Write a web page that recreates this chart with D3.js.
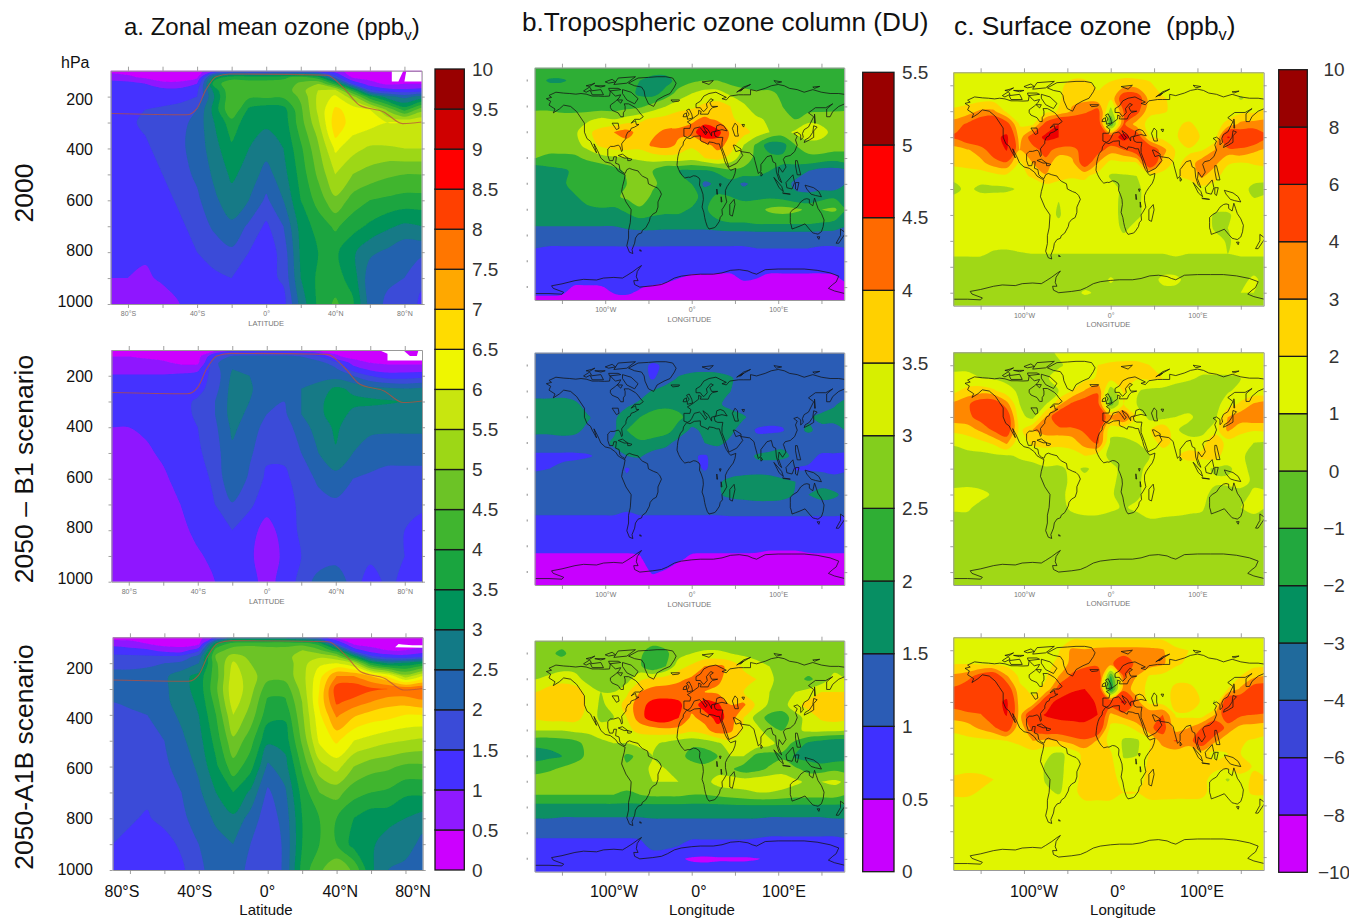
<!DOCTYPE html>
<html>
<head>
<meta charset="utf-8">
<script src="https://cdn.jsdelivr.net/npm/d3@7"></script>
<style>
  body { margin: 0; background: #fff; }
  text { font-family: "Liberation Sans", Arial, sans-serif; }
</style>
</head>
<body>
<svg id="chart" width="1349" height="918"></svg>
<script>
// grid coordinates
const zonalLat = [-90,-80,-70,-60,-50,-40,-30,-20,-10,0,10,20,30,40,50,60,70,80,90];
const zonalPres = [100,125,150,175,200,250,300,350,400,500,600,700,800,900,1000];
const mapLon = [-180,-165,-150,-135,-120,-105,-90,-75,-60,-45,-30,-15,0,15,30,45,60,75,90,105,120,135,150,165,180];
const mapLat = [90,80,70,60,50,40,30,20,10,0,-10,-20,-30,-40,-50,-60,-70,-80,-90];

// colour bars, lowest class first
const zonalLevels = [0,0.5,1,1.5,2,2.5,3,3.5,4,4.5,5,5.5,6,6.5,7,7.5,8,8.5,9,9.5,10];
const zonalLabels = ["0","0.5","1","1.5","2","2.5","3","3.5","4","4.5","5","5.5","6","6.5","7","7.5","8","8.5","9","9.5","10"];
const zonalColors = ["#cc00ff","#8f19ff","#4430ff","#3a4bd8","#2262ae","#127a86","#00935a","#1aa53f","#40b52f","#6cc326","#9dd716","#c8e60f","#eff600","#ffdc00","#ffa800","#ff7600","#ff4000","#ff0000","#cf0000","#990000"];
const columnLevels = [0,0.5,1,1.5,2,2.5,3,3.5,4,4.5,5,5.5];
const columnLabels = ["0","0.5","1","1.5","2","2.5","3","3.5","4","4.5","5","5.5"];
const columnColors = ["#c800ff","#3f30ff","#2b5cb5","#078f63","#2fae34","#83ce1d","#d7ef00","#ffd000","#ff6a00","#ff0000","#990000"];
const surfaceLevels = [-10,-8,-6,-4,-3,-2,-1,0,1,2,3,4,6,8,10];
const surfaceLabels = ["\u221210","\u22128","\u22126","\u22124","\u22123","\u22122","\u22121","0","1","2","3","4","6","8","10"];
const surfaceColors = ["#cc00ff","#5f20ff","#3a45d8","#206a9c","#03905f","#22a83e","#5fc025","#a0d818","#e0f500","#ffd500","#ff8800","#ff4000","#ee0000","#990000"];

// a. zonal mean ozone, rows = pressure, cols = latitude
const zonal2000 = [
[.3,.3,.3,.3,.3,.3,.9,1.2,1.2,1.2,1.2,1.2,1.0,.7,.3,.3,.3,.3,.3],
[.8,.6,.4,.3,.3,.4,3.2,3.8,3.8,3.8,3.9,4.2,3.7,1.8,.4,.3,.3,.3,.3],
[1.2,1.2,1.0,.6,.6,1.0,3.8,4.3,4.2,4.2,4.2,4.6,5.0,3.8,1.5,.7,.4,.5,.5],
[1.2,1.2,1.2,1.2,1.2,1.4,3.2,4.5,4.2,4.2,4.2,4.8,5.5,5.6,3.8,1.6,1.2,1.1,1.2],
[1.2,1.2,1.2,1.2,1.3,1.5,3.0,4.5,4.1,4.1,4.1,4.6,5.6,6.1,5.2,3.6,2.7,2.3,2.7],
[1.3,1.4,1.5,1.6,1.7,2.0,3.2,4.5,3.4,3.2,3.3,4.4,5.6,6.6,6.3,6.0,4.9,3.8,4.8],
[1.3,1.4,1.6,1.7,1.8,2.2,3.0,3.8,3.2,3.1,3.2,4.3,5.4,6.8,6.3,6.1,6.0,6.0,6.0],
[1.2,1.3,1.5,1.7,1.9,2.2,2.9,3.6,3.1,2.9,3.1,4.1,5.1,6.6,6.0,5.9,5.9,5.9,5.9],
[1.2,1.2,1.4,1.7,1.9,2.2,2.8,3.4,3.0,2.7,3.0,3.9,4.9,6.1,5.7,5.4,5.4,5.5,5.5],
[1.2,1.2,1.3,1.5,1.8,2.1,2.6,3.1,2.8,2.3,2.8,3.7,4.6,5.5,5.0,4.8,4.6,4.5,4.5],
[1.2,1.2,1.2,1.3,1.6,1.9,2.4,2.8,2.5,1.9,2.5,3.5,4.2,4.9,4.3,4.0,3.9,3.8,3.8],
[1.2,1.2,1.2,1.2,1.4,1.7,2.1,2.4,1.9,1.4,2.0,3.2,3.7,4.1,3.7,3.4,3.1,2.9,3.0],
[1.1,1.1,1.1,1.2,1.3,1.5,1.7,1.9,1.5,1.2,1.7,3.1,3.5,3.6,3.1,2.6,2.4,2.1,2.1],
[1.0,1.0,.9,1.1,1.2,1.2,1.4,1.5,1.3,1.3,1.6,3.0,3.6,3.7,3.3,2.2,2.1,2.0,1.6],
[.7,.8,.7,.7,1.0,1.1,1.1,1.1,1.1,1.1,1.3,2.7,3.6,4.1,3.6,2.3,1.9,1.8,1.4]];
const zonalB1 = [
[.3,.3,.3,.3,.3,.3,.5,.8,.8,.8,.8,.7,.5,.3,.3,.3,.3,.3,.3],
[.5,.5,.4,.3,.3,.3,1.5,2.1,2.2,2.2,2.2,2.0,1.6,.6,.3,.3,.3,.3,.3],
[.7,.7,.7,.6,.4,.4,1.9,2.4,2.3,2.2,2.2,2.2,2.2,1.7,.8,.5,.4,.4,.4],
[.8,.8,.8,.8,.8,.9,1.8,2.5,2.4,2.2,2.2,2.2,2.2,2.1,1.3,.9,.8,.8,.8],
[1.05,1.05,1.05,1.05,1.1,1.2,1.7,2.6,2.5,2.2,2.2,2.3,2.3,2.3,2.0,1.5,1.2,1.2,1.3],
[1.2,1.2,1.2,1.2,1.2,1.3,1.8,2.7,2.6,2.1,2.1,2.5,2.7,3.1,2.9,2.7,2.6,2.5,2.6],
[1.15,1.15,1.2,1.2,1.3,1.6,2.0,2.7,2.5,2.0,2.0,2.5,2.9,3.2,3.1,3.1,3.05,3.0,3.0],
[1.05,1.05,1.15,1.2,1.3,1.6,2.0,2.7,2.4,2.0,1.9,2.5,2.9,3.2,2.9,2.8,2.8,2.8,2.8],
[1.0,1.0,1.05,1.15,1.3,1.5,1.9,2.6,2.3,1.8,1.7,2.3,2.7,3.1,2.7,2.6,2.6,2.6,2.6],
[.9,.9,.95,1.05,1.2,1.4,1.8,2.4,2.1,1.6,1.6,2.0,2.5,2.95,2.5,2.3,2.2,2.2,2.2],
[.8,.8,.85,.95,1.1,1.3,1.6,2.5,1.9,1.4,1.4,1.7,2.1,2.3,2.0,1.9,1.8,1.8,1.8],
[.7,.7,.75,.85,1.0,1.2,1.5,1.95,1.6,1.2,1.3,1.6,1.8,1.9,1.8,1.7,1.7,1.6,1.6],
[.7,.7,.7,.75,.9,1.1,1.3,1.5,1.2,.8,1.2,1.6,1.7,1.7,1.7,1.6,1.6,1.5,1.3],
[.6,.6,.6,.7,.8,.95,1.1,1.3,1.1,.7,1.1,1.5,1.7,1.7,1.7,1.6,1.6,1.5,1.3],
[.6,.6,.6,.6,.6,.8,1.0,1.1,1.1,.9,1.1,1.7,2.2,2.5,1.7,1.3,1.6,1.4,1.2]];
const zonalA1B = [
[.3,.3,.3,.3,.3,.3,1.2,2.4,2.5,2.5,2.5,2.2,1.5,.4,.3,.3,.3,.3,.3],
[.8,.7,.5,.3,.3,.4,3.4,4.3,4.4,4.4,4.4,4.3,3.8,1.6,.4,.3,.3,.3,.3],
[1.3,1.2,1.1,.8,.7,1.4,4.3,4.7,4.7,4.6,4.6,5.0,4.6,3.7,1.3,.7,.5,.5,.7],
[1.6,1.6,1.6,1.6,1.7,2.2,4.6,5.2,4.9,4.7,4.7,5.4,5.4,5.1,3.5,1.7,1.3,1.2,1.4],
[1.9,1.9,1.9,2.0,2.1,2.5,4.4,5.6,5.0,4.7,4.7,5.3,5.9,6.0,5.5,3.6,2.9,3.1,3.5],
[2.1,2.1,2.2,2.4,2.8,3.2,4.3,5.8,5.2,4.7,4.7,5.3,6.3,7.5,7.5,7.0,6.4,5.2,6.0],
[2.1,2.1,2.2,2.4,2.8,3.2,4.4,5.9,5.2,4.2,4.2,5.2,6.5,8.3,8.4,8.1,8.0,7.9,8.0],
[2.0,2.1,2.2,2.4,2.7,3.1,4.2,5.8,5.0,3.9,3.9,5.0,6.6,8.1,7.8,7.5,7.2,7.2,7.4],
[1.9,1.9,2.0,2.3,2.6,3.0,4.0,5.5,4.8,3.7,3.6,4.9,6.4,7.6,7.1,6.8,6.7,6.5,6.5],
[1.7,1.7,1.8,2.0,2.4,2.8,3.7,4.9,4.2,3.1,3.2,4.6,6.1,6.6,6.0,5.8,5.6,5.5,5.4],
[1.6,1.6,1.7,1.9,2.2,2.6,3.4,4.3,3.7,2.4,2.8,4.1,5.3,5.7,5.0,4.7,4.6,4.4,4.4],
[1.6,1.6,1.6,1.8,2.0,2.4,3.0,3.5,2.9,1.9,2.4,3.7,4.5,4.7,4.2,4.0,3.9,3.6,3.6],
[1.6,1.55,1.45,1.65,1.9,2.2,2.6,2.9,2.3,1.7,2.2,3.5,4.0,4.0,3.5,3.2,3.2,3.0,2.8],
[1.5,1.4,1.3,1.3,1.6,2.0,2.3,2.5,2.0,1.6,2.1,3.5,4.0,4.0,3.3,3.1,2.7,2.8,2.3],
[1.3,1.3,1.2,1.2,1.4,1.9,2.2,2.2,1.9,1.6,2.1,3.7,4.4,4.9,4.4,3.1,2.5,2.3,2.1]];

// b. tropospheric ozone column, rows = latitude, cols = longitude
const column2000 = [
[2.3,2.3,2.3,2.3,2.3,2.3,2.3,2.3,2.3,2.3,2.3,2.3,2.3,2.3,2.3,2.3,2.3,2.3,2.3,2.3,2.3,2.3,2.3,2.3,2.3],
[2.2,1.95,1.95,2.1,2.2,2.2,2.2,2.2,2.0,1.8,1.8,2.2,2.4,2.5,2.5,2.3,2.2,2.2,2.2,2.2,2.2,2.2,2.2,2.2,2.2],
[2.3,2.3,2.3,2.3,2.3,2.3,2.2,2.2,1.9,1.8,2.2,2.7,3.0,3.2,3.2,2.9,2.7,2.6,2.6,2.4,2.3,2.3,2.3,2.3,2.3],
[2.4,2.4,2.3,2.3,2.2,2.2,2.2,2.3,2.4,2.7,3.0,3.3,3.4,3.6,3.7,3.5,3.1,2.7,2.6,2.5,2.2,2.2,2.2,2.3,2.4],
[2.7,2.7,2.7,2.7,2.9,3.1,3.0,3.2,3.4,3.6,3.7,3.8,3.9,4.1,3.9,3.6,3.3,3.1,2.9,2.6,2.5,2.8,2.9,2.8,2.7],
[2.8,2.8,2.8,2.9,3.4,3.7,4.0,4.2,3.8,3.9,4.1,4.1,4.2,5.1,4.7,3.9,3.7,3.3,3.0,2.8,3.1,3.5,3.1,2.9,2.8],
[2.7,2.7,2.7,2.8,3.2,3.6,3.8,3.8,3.7,4.1,4.2,3.9,3.6,3.8,4.2,3.8,3.0,2.4,1.7,1.8,2.5,2.7,2.9,2.8,2.7],
[2.5,2.4,2.4,2.4,2.6,2.8,2.9,3.0,3.1,3.2,3.3,3.3,3.2,3.5,3.7,3.3,2.7,2.4,2.2,2.1,2.3,2.4,2.3,2.2,2.3],
[1.6,1.8,1.9,2.1,2.1,2.1,2.3,2.6,2.5,2.5,2.0,2.0,1.9,1.9,2.1,2.4,2.4,2.2,2.0,1.9,1.7,1.5,1.3,1.3,1.5],
[1.7,1.8,1.9,2.2,2.3,2.3,2.3,2.5,2.6,2.6,2.3,2.2,2.0,1.4,1.6,1.8,1.4,1.7,1.8,1.7,1.4,1.3,1.2,1.1,1.6],
[1.8,1.9,1.9,1.95,2.2,2.3,2.4,2.6,2.8,2.4,2.3,2.3,2.2,1.8,2.1,2.0,1.9,1.9,1.9,1.8,1.6,1.6,1.8,1.9,1.9],
[1.8,1.85,1.9,1.9,1.9,1.95,1.9,2.1,2.4,2.2,2.1,2.1,1.95,1.9,2.3,2.5,2.2,2.3,2.6,2.7,2.6,2.4,2.5,2.6,2.0],
[1.6,1.6,1.6,1.6,1.6,1.6,1.6,1.7,1.8,1.8,1.8,1.8,1.8,1.8,1.9,2.0,2.0,2.1,2.1,2.1,2.1,2.1,2.0,1.9,1.6],
[1.25,1.25,1.25,1.25,1.25,1.25,1.25,1.3,1.3,1.3,1.25,1.25,1.25,1.25,1.25,1.25,1.25,1.25,1.25,1.25,1.25,1.25,1.25,1.25,1.25],
[1.0,.95,.95,.95,.95,.95,.95,.95,.95,.95,.95,.95,.95,.95,.95,.95,.95,1.0,1.0,1.0,1.0,1.0,.95,.95,1.0],
[.8,.8,.8,.8,.8,.8,.8,.8,.8,.8,.8,.8,.8,.8,.8,.8,.8,.8,.8,.8,.8,.8,.8,.8,.8],
[.8,.8,.8,.8,.8,.8,.8,.8,.8,.8,.7,.55,.5,.5,.48,.48,.6,.55,.48,.48,.48,.48,.48,.5,.6],
[.7,.7,.65,.45,.45,.47,.6,.65,.52,.45,.4,.4,.4,.4,.4,.4,.4,.4,.4,.4,.4,.4,.4,.4,.45],
[.4,.4,.4,.4,.4,.4,.4,.4,.4,.4,.4,.4,.4,.4,.4,.4,.4,.4,.4,.4,.4,.4,.4,.4,.4]];
const columnB1 = [
[1.2,1.2,1.2,1.2,1.2,1.2,1.2,1.2,1.2,1.2,1.2,1.2,1.2,1.2,1.2,1.2,1.2,1.2,1.2,1.2,1.2,1.2,1.2,1.2,1.2],
[1.25,1.25,1.25,1.25,1.25,1.25,1.25,1.25,1.1,.95,1.05,1.25,1.25,1.25,1.25,1.25,1.25,1.25,1.25,1.25,1.25,1.25,1.25,1.25,1.25],
[1.2,1.2,1.2,1.2,1.2,1.2,1.2,1.2,1.2,.95,1.3,1.55,1.7,1.75,1.7,1.55,1.3,1.2,1.2,1.2,1.2,1.2,1.2,1.2,1.2],
[1.25,1.25,1.25,1.25,1.2,1.2,1.2,1.2,1.3,1.55,1.7,1.8,1.8,1.8,1.7,1.5,1.3,1.2,1.1,1.1,1.05,1.2,1.2,1.2,1.25],
[1.7,1.7,1.75,1.6,1.3,1.2,1.2,1.4,1.6,1.8,1.9,1.85,1.7,1.65,1.55,1.4,1.3,1.2,1.2,1.2,1.0,1.2,1.3,1.45,1.7],
[1.7,1.7,1.8,1.7,1.55,1.3,1.4,1.8,2.0,2.2,2.2,2.1,1.8,1.8,1.8,1.65,1.55,1.3,1.2,1.2,1.3,1.45,1.6,1.7,1.7],
[1.6,1.6,1.65,1.6,1.4,1.3,1.4,2.0,2.3,2.3,2.2,1.8,1.4,1.6,1.7,1.6,1.3,.95,.9,.95,1.4,1.55,1.4,1.3,1.55],
[1.3,1.3,1.3,1.3,1.3,1.3,1.6,1.7,1.9,1.8,1.65,1.3,1.3,1.5,1.6,1.4,1.2,1.15,1.3,1.4,1.5,1.3,1.2,1.2,1.25],
[.9,.9,.9,.9,.95,1.1,1.3,1.5,1.55,1.3,1.2,1.2,1.05,.95,1.2,1.3,1.3,1.55,1.6,1.6,1.4,1.1,.95,.95,.9],
[.95,1.0,1.1,1.2,1.3,1.3,1.3,.95,1.2,1.3,1.3,1.3,1.2,.95,1.2,1.3,1.3,1.35,1.3,1.2,.95,.95,.9,.85,.95],
[1.2,1.3,1.3,1.3,1.3,1.3,1.3,1.1,1.3,1.3,1.3,1.3,1.3,1.3,1.45,1.6,1.7,1.7,1.7,1.6,1.5,1.3,1.3,1.2,1.2],
[1.3,1.3,1.3,1.3,1.3,1.3,1.3,1.3,1.3,1.3,1.3,1.3,1.3,1.3,1.45,1.6,1.7,1.8,1.8,1.7,1.45,1.5,1.7,1.6,1.3],
[1.15,1.15,1.15,1.15,1.15,1.15,1.15,1.05,1.15,1.15,1.15,1.15,1.15,1.15,1.15,1.2,1.2,1.2,1.2,1.2,1.2,1.2,1.2,1.2,1.15],
[.9,.9,.9,.9,.9,.9,.9,.9,.9,.9,.9,.9,.9,.9,.9,.9,.9,.9,.9,.9,.9,.9,.9,.9,.9],
[.85,.85,.85,.85,.85,.85,.85,.85,.85,.85,.85,.85,.85,.85,.85,.85,.85,.85,.85,.85,.85,.85,.85,.85,.85],
[.62,.62,.62,.62,.62,.62,.62,.62,.62,.7,.7,.65,.62,.62,.62,.62,.62,.6,.55,.55,.55,.6,.62,.62,.62],
[.4,.4,.4,.4,.4,.4,.4,.4,.45,.7,.7,.55,.42,.4,.4,.4,.4,.4,.4,.4,.4,.4,.4,.4,.4],
[.3,.3,.3,.3,.3,.3,.3,.3,.3,.55,.45,.3,.3,.3,.3,.3,.3,.3,.3,.3,.3,.3,.3,.3,.3],
[.25,.25,.25,.25,.25,.25,.25,.25,.25,.25,.25,.25,.25,.25,.25,.25,.25,.25,.25,.25,.25,.25,.25,.25,.25]];
const columnA1B = [
[2.7,2.7,2.7,2.7,2.7,2.7,2.7,2.7,2.7,2.7,2.7,2.7,2.7,2.7,2.7,2.7,2.7,2.7,2.7,2.7,2.7,2.7,2.7,2.7,2.7],
[2.7,2.6,2.4,2.7,2.7,2.7,2.7,2.7,2.6,2.2,2.4,2.8,3.0,3.1,3.1,3.0,2.9,2.8,2.7,2.7,2.7,2.7,2.7,2.7,2.7],
[2.8,2.8,2.8,2.8,2.8,2.7,2.7,2.8,2.6,2.0,2.5,3.3,3.6,4.0,4.1,3.9,3.4,3.2,3.0,2.9,2.9,2.8,2.8,2.8,2.8],
[3.0,3.1,3.3,3.2,2.8,2.7,2.8,2.8,3.4,3.7,3.8,3.9,4.1,4.2,4.1,3.8,3.7,3.5,3.1,2.8,2.7,2.4,2.7,3.2,3.0],
[3.5,3.8,3.9,3.8,3.3,3.0,3.0,3.4,4.0,4.2,4.2,4.3,4.1,4.0,3.9,3.6,3.5,3.2,3.0,2.8,3.0,3.2,3.5,3.5,3.5],
[3.7,3.9,3.9,3.9,3.4,2.9,3.2,3.7,4.3,4.7,4.8,4.6,4.2,4.8,4.6,4.0,4.1,3.4,2.9,2.8,3.3,3.7,3.9,3.8,3.7],
[3.6,3.7,3.7,3.7,3.3,2.9,3.0,3.5,4.3,4.8,4.9,4.5,3.9,4.2,4.7,4.3,3.5,2.8,2.3,2.2,2.8,3.2,3.6,3.7,3.6],
[3.0,3.0,3.0,3.1,3.1,3.2,3.2,3.4,3.6,3.7,3.8,3.8,3.6,3.8,4.3,4.1,3.4,3.2,2.7,2.5,2.9,3.1,3.1,3.1,3.0],
[2.1,2.1,2.2,2.3,2.7,2.9,3.0,3.0,3.2,3.1,2.9,2.7,2.6,2.7,2.9,3.3,3.3,3.4,3.2,2.7,2.4,1.9,1.7,1.5,1.5],
[1.8,1.9,2.0,2.3,2.6,2.8,2.9,2.4,2.6,3.0,2.9,2.7,2.3,2.2,2.5,3.0,3.0,2.3,2.2,2.4,1.9,1.8,1.6,1.7,1.8],
[2.3,2.4,2.6,2.7,2.7,2.8,2.8,2.6,2.8,3.1,3.0,2.9,2.8,2.7,2.8,2.6,2.2,2.3,2.6,2.8,2.6,2.3,2.3,2.4,2.3],
[2.8,2.9,3.0,3.0,3.0,3.0,3.0,2.7,2.8,3.0,3.0,3.0,2.9,2.8,3.2,3.3,3.3,3.4,3.4,3.3,3.1,2.9,3.0,3.1,2.9],
[2.5,2.5,2.5,2.5,2.5,2.5,2.5,2.4,2.5,2.6,2.6,2.6,2.5,2.5,2.6,2.7,2.8,2.9,2.9,2.8,2.7,2.7,2.7,2.7,2.5],
[1.8,1.8,1.8,1.8,1.8,1.8,1.8,1.8,1.8,1.8,1.8,1.8,1.8,1.8,1.8,1.8,1.8,1.8,1.8,1.8,1.8,1.8,1.8,1.8,1.8],
[1.45,1.45,1.4,1.4,1.4,1.4,1.4,1.4,1.4,1.45,1.45,1.45,1.45,1.45,1.45,1.45,1.45,1.45,1.4,1.4,1.4,1.4,1.4,1.45,1.45],
[1.1,1.1,1.1,1.1,1.1,1.1,1.1,1.1,1.1,1.2,1.2,1.15,1.15,1.15,1.15,1.15,1.15,1.1,1.05,1.05,1.05,1.05,1.05,1.05,1.1],
[.85,.85,.85,.85,.85,.85,.85,.85,.9,1.1,1.1,1.0,.85,.85,.85,.85,.85,.85,.85,.85,.85,.85,.85,.85,.85],
[.8,.8,.8,.8,.8,.8,.8,.8,.8,.8,.7,.55,.45,.42,.45,.45,.45,.48,.55,.7,.8,.8,.8,.8,.8],
[.75,.75,.75,.75,.75,.75,.75,.75,.75,.75,.75,.7,.7,.7,.7,.7,.7,.7,.75,.75,.75,.75,.75,.75,.75]];

// c. surface ozone
const surface2000 = [
[1.5,1.5,1.5,1.5,1.5,1.5,1.5,1.5,1.5,1.5,1.5,1.5,1.5,1.5,1.5,1.5,1.5,1.5,1.5,1.5,1.5,1.5,1.5,1.5,1.5],
[1.5,1.5,1.5,1.5,1.5,1.5,1.5,1.5,1.7,2.4,2.4,1.8,2.2,2.6,2.5,2.2,1.5,1.5,1.5,1.5,1.5,1.5,1.5,1.5,1.5],
[1.5,1.5,1.5,1.5,1.5,1.5,1.5,1.5,1.8,2.8,2.7,2.3,2.2,5,5,2.5,2.1,1.7,1.6,1.5,1.5,1.5,.9,1.4,1.5],
[2.2,2.5,3.2,3.2,1.8,1.5,1.4,1.6,2.1,3.1,3.7,4.5,.5,4.1,4.5,2.2,2.1,1.8,1.6,1.5,1.5,1.6,1.7,1.8,2.2],
[3.5,4.2,5,5.5,4.6,1.9,1.8,4.5,6,5.5,5.5,5.4,-1,4.2,2.5,1.7,1.5,1.9,2.1,1.8,1.7,2.2,3.3,3.4,3.5],
[4.2,5,5.3,5.5,6.4,2.5,4.8,6.5,6,5.2,5.3,4.8,5,6.7,5,2.0,1.7,1.8,3.0,1.8,1.4,6.2,5.1,5.2,4.2],
[2.5,2.9,3.5,4.7,6.1,3.0,3.5,4.5,3.5,3.6,4.5,4.5,3.5,3.9,5,5.3,3.4,1.9,1.8,1.9,3,3.6,3.8,3.2,2.8],
[2.3,2.4,2.7,3.5,3.8,1.8,3.0,3.6,2.3,2.6,4.8,3.0,1.6,1.8,1.9,5.5,2.7,1.7,2.4,3.6,3.3,2.1,1.9,2.1,2.3],
[1.2,1.4,1.4,1.6,1.7,1.8,2.1,2.9,2.3,2.1,2.2,1.6,.9,.9,1.0,1.3,1.6,1.9,2.2,3.2,2.3,1.5,1.3,1.3,1.2],
[.8,1.2,.8,.8,.85,1.1,1.4,1.4,1.5,1.5,1.5,1.4,1.3,.8,.8,1.4,1.5,1.5,1.5,1.6,1.6,1.5,1.3,.8,.8],
[1.3,1.5,1.5,1.5,1.5,1.5,1.5,1.4,1.0,1.5,1.5,1.5,1.4,.7,.8,1.4,1.5,1.5,1.5,1.5,1.5,1.4,1.3,1.1,1.3],
[1.5,1.5,1.5,1.5,1.5,1.5,1.5,1.4,.9,1.5,1.5,1.5,1.4,.7,.8,1.4,1.5,1.5,1.5,1.5,.9,.9,1.3,1.5,1.5],
[1.5,1.5,1.5,1.5,1.5,1.5,1.5,1.5,1.3,1.9,1.5,1.5,1.5,.8,1.3,1.5,1.5,1.5,1.5,1.5,.9,1.0,1.3,1.5,1.5],
[1.3,1.3,1.3,1.3,1.3,1.3,1.3,1.3,1.3,1.3,1.3,1.3,1.3,1.3,1.3,1.3,1.3,1.3,1.3,1.3,1.3,.9,1.3,1.3,1.3],
[1.1,1.1,1.1,.9,.85,.95,1.0,1.0,1.0,1.0,1.0,1.0,1.0,1.0,1.0,1.0,1.0,1.1,1.0,1.0,1.0,1.0,1.1,1.1,1.1],
[.6,.6,.6,.6,.6,.6,.6,.6,.6,.6,.6,.6,.6,.6,.6,.6,.6,.6,.6,.6,.6,.6,.6,.6,.6],
[.6,.6,.6,.6,.6,.6,.6,.6,.6,.6,.6,.6,1.1,.7,.6,.6,1.2,1.2,.7,.6,.6,.6,.7,1.2,.6],
[.7,.7,.7,.7,.7,.7,.7,.7,.7,.7,1.1,.9,.7,.7,.7,.7,.7,.7,.7,.7,.7,.7,1.0,1.0,.7],
[.5,.5,.5,.5,.5,.5,.5,.5,.5,.5,.5,.5,.5,.5,.5,.5,.5,.5,.5,.5,.5,.5,.5,.5,.5]];
const surfaceB1 = [
[.8,.8,.8,.8,.8,.8,.8,.8,1.1,1.3,1.3,1.3,1.3,1.3,1.3,1.3,1.3,1.3,1.3,1.3,1.3,1.3,1.3,1.3,1.3],
[.8,.8,.8,.8,.8,.8,.8,.8,.9,1.2,1.4,2.0,2.2,2.3,2.3,2.0,1.5,1.5,1.4,1.3,1.3,1.3,1.3,1.3,1.3],
[1.2,1.2,1.0,.9,.7,.7,.7,.9,1.3,1.3,1.7,2.1,2.4,3.0,2.1,2.2,2.0,1.3,1.1,.9,.9,.9,1.0,1.0,1.0],
[1.8,2.4,2.6,2.2,1.4,.8,.6,.6,1.0,2.0,3.1,3.9,.3,2.2,1.1,.7,.6,.6,.6,.6,.7,.9,1.3,1.3,1.1],
[3.3,3.8,4.8,5.0,3.4,1.0,.6,.9,2.7,4.2,4.8,4.4,-.5,2.0,1.0,.7,.6,.5,.5,.5,.6,1.5,2.2,3.1,3.6],
[3.6,3.7,4.5,4.8,5,1.3,.7,3.0,5.2,5.3,5.2,4.8,3.5,4.1,1.8,.7,.6,1.0,1.2,.6,.7,3,3.6,3.8,3.7],
[2.3,2.5,3.2,4.2,4.9,1.7,3.0,3.5,3.6,3.7,4.2,4.6,1.3,1.3,1.5,1.9,3.0,1.1,.7,.6,1.5,3.2,2.3,2.1,2.2],
[1.1,1.4,1.7,2.2,3.2,1.2,2.2,2.3,2.2,2.4,3.5,4.2,.8,.8,1.0,1.4,2.4,1.7,1.3,1.5,3,1.5,1.4,1.0,.9],
[.7,.7,.7,.8,.9,1.1,1.3,1.5,1.6,1.6,2.0,1.4,.8,.7,.7,1.0,1.4,1.8,2.5,2.3,2.5,1.3,1.1,.8,.7],
[.7,.7,.7,.7,.7,.7,.7,.9,.8,1.2,.9,1.2,1.2,.8,.8,1.2,1.2,1.3,1.2,1.2,.9,.9,1.2,.8,.7],
[.7,.7,.7,.7,.7,.7,.7,.7,.8,1.1,1.2,1.2,1.2,.7,.9,1.2,1.2,1.2,1.2,1.2,1.1,1.1,1.2,.9,.8],
[1.3,1.4,1.2,.9,.9,.8,.7,.8,.8,1.2,1.3,1.3,1.1,.7,.9,1.2,1.3,1.3,1.2,1.2,.8,.8,.8,1.1,1.1],
[1.1,1.1,.8,.8,.8,.8,.8,.8,.8,1.1,1.3,1.3,1.1,.95,1.1,1.3,1.3,1.2,1.1,1.05,.8,.8,1.0,1.1,1.0],
[.8,.8,.8,.8,.8,.8,.8,.8,.8,.8,.8,.8,.8,.8,.8,.95,.9,.9,.9,.9,.9,.9,.9,.9,.8],
[.7,.7,.7,.7,.7,.7,.7,.7,.7,.7,.7,.7,.7,.7,.7,.7,.7,.7,.7,.7,.7,.7,.7,.7,.7],
[.7,.7,.7,.7,.7,.7,.7,.7,.7,.7,.7,.7,.7,.7,.7,.7,.7,.7,.7,.7,.7,.7,.7,.7,.7],
[.7,.7,.7,.7,.7,.7,.7,.7,.7,.7,.7,.7,.7,.7,.7,.7,.7,.7,.7,.7,.7,.7,.7,.7,.7],
[.7,.7,.7,.7,.7,.7,.7,.7,.7,.7,.7,.7,.7,.7,.7,.7,.7,.7,.7,.7,.7,.7,.7,.7,.7],
[.7,.7,.7,.7,.7,.7,.7,.7,.7,.7,.7,.7,.7,.7,.7,.7,.7,.7,.7,.7,.7,.7,.7,.7,.7]];
const surfaceA1B = [
[1.6,1.6,1.6,1.6,1.6,1.6,1.6,1.6,1.7,1.7,1.7,1.7,1.7,1.7,1.7,1.7,1.7,1.7,1.7,1.7,1.7,1.7,1.7,1.7,1.7],
[1.6,1.6,1.6,1.6,1.6,1.6,1.6,1.6,1.9,3.2,3.1,3.3,3.4,3.4,3.4,3.3,3.1,2.1,2.0,1.7,1.7,1.7,1.7,1.7,1.7],
[1.9,1.9,1.7,1.6,1.6,1.6,1.6,1.7,2.2,3.3,3.4,3.5,3.8,4.8,3.7,3.6,3.2,2.1,1.9,1.7,1.7,1.6,1.6,1.6,1.6],
[3.2,3.5,4.6,5.0,3.1,1.8,1.6,1.9,3.0,4.2,5.1,5.5,-1,4.2,3.0,1.9,1.7,1.7,1.7,1.6,1.7,1.7,2.0,2.7,3.0],
[4.2,5,5.3,5.6,5,2.2,1.8,2.2,4.5,5.8,6,5.8,-2,3.6,2.5,1.7,1.6,2.2,2.2,1.8,1.6,2,3.2,4.7,4.9],
[4.6,5,5.2,5.4,6.3,2.5,2.2,5.2,6.5,6.6,6.6,5.8,5.0,6.3,3.4,1.7,1.5,2.3,3,1.8,.9,5.5,5.2,5.3,5.4],
[3.5,3.7,3.9,5.2,6.1,2.6,5.5,6.1,6.6,6.7,6.6,6.0,2.7,3.5,4,3.8,4,1.9,1.7,1.5,3.0,4.9,4.2,4,3.8],
[2.3,2.6,3.2,3.8,4.9,2.2,4.5,5.2,5,5.2,5.5,5.4,1.7,1.5,2.4,3.8,4.5,2.5,3,4,5.3,3.5,2.7,2.6,2.5],
[1.6,1.7,1.7,1.8,2.0,2.2,3.0,2.8,3.0,3.5,3.8,2.9,1.6,.9,.8,2.0,3.5,4.1,3.5,5.1,3.2,2.4,2.1,1.9,1.7],
[1.6,1.6,1.5,1.6,1.6,1.6,1.6,1.2,.8,1.3,2.4,2.1,2.1,.9,.9,2.1,2.3,2.5,2.3,2.4,1.7,2.0,2.0,1.6,1.6],
[1.6,1.6,1.6,1.7,1.7,1.7,1.7,.9,.8,1.3,2.4,2.4,2.3,1.2,1.5,2.2,2.4,2.4,2.4,2.4,2.3,2.3,2.5,1.9,1.6],
[2.2,2.4,2.3,2.0,1.7,1.7,1.7,.9,.8,1.4,2.5,2.5,2.5,1.5,1.6,2.3,2.5,2.5,2.5,2.4,1.5,.9,1.6,2.2,2.1],
[2.2,2.2,1.9,1.7,1.7,1.7,1.7,1.2,.9,1.5,2.6,2.6,2.6,2.0,2.0,2.5,2.5,2.4,2.4,2.3,1.5,1.5,1.8,2.1,2.1],
[1.6,1.6,1.6,1.6,1.6,1.6,1.6,1.6,1.6,1.6,1.6,1.6,1.6,1.6,1.6,1.6,1.6,1.6,1.6,1.6,1.6,1.6,1.6,1.6,1.6],
[1.5,1.5,1.5,1.5,1.5,1.5,1.5,1.5,1.5,1.5,1.5,1.5,1.5,1.5,1.5,1.5,1.5,1.5,1.5,1.5,1.5,1.5,1.5,1.5,1.5],
[1.5,1.5,1.5,1.5,1.5,1.5,1.5,1.5,1.5,1.5,1.5,1.5,1.5,1.5,1.5,1.5,1.5,1.5,1.5,1.5,1.5,1.5,1.5,1.5,1.5],
[1.5,1.5,1.5,1.5,1.5,1.5,1.5,1.5,1.5,1.5,1.5,1.5,1.5,1.5,1.5,1.5,1.5,1.5,1.5,1.5,1.5,1.5,1.5,1.5,1.5],
[1.5,1.5,1.5,1.5,1.5,1.5,1.5,1.5,1.5,1.5,1.5,1.5,1.5,1.5,1.5,1.5,1.5,1.5,1.5,1.5,1.5,1.5,1.5,1.5,1.5],
[1.5,1.5,1.5,1.5,1.5,1.5,1.5,1.5,1.5,1.5,1.5,1.5,1.5,1.5,1.5,1.5,1.5,1.5,1.5,1.5,1.5,1.5,1.5,1.5,1.5]];

// tropopause line, lat / hPa
const tropopause = [[-90,265],[-46,270],[-40,245],[-35,175],[-29,123],[-21,113],[35,117],[45,168],[54,233],[68,259],[79,304],[90,298]];
// missing data at top right of the zonal plots
const gaps2000 = [[[72.7,100],[72.7,142],[76.5,142],[79.4,100]],[[80,142],[90,142],[90,104],[81,104]]];
const gapsB1 = [[[65,100],[70,115],[70,141],[90,141],[90,100]]];
const gapsA1B = [[[74,138],[76,126],[78,128],[84,131],[90,131],[90,140]]];

// coastlines, lon / lat
const coasts = [
[[-168,66],[-162,67],[-165,68.5],[-157,71],[-148,70.3],[-141,70],[-134,69.5],[-128,70],[-122,69.5],[-115,68],[-108,68],[-101,67.8],[-95,68],[-94,72],[-90,69],[-88,68],[-82,69],[-84,66.5],[-88,64],[-94,61],[-94,59],[-92,57],[-85,55],[-82,52],[-79,52],[-79,55],[-77,57],[-77,60],[-78,62],[-73,62],[-70,61],[-65,59],[-62,57],[-60,55],[-56,52],[-60,50],[-66,50],[-70,47],[-65,49],[-64,46],[-61,46],[-66,44],[-70,43],[-71,41],[-74,40],[-76,37],[-76,35],[-78,33.7],[-81,31],[-80,26],[-81,25],[-83,29],[-85,30],[-90,29],[-94,29],[-97,27],[-97,22],[-95,18],[-91,18],[-90,21],[-87,21],[-88,16],[-84,15],[-83,11],[-80,9],[-77,8],[-75,11],[-72,12],[-68,11],[-62,10],[-60,8],[-57,6],[-51,4],[-50,0],[-44,-2],[-40,-3],[-37,-5],[-35,-8],[-37,-11],[-39,-14],[-39,-18],[-41,-22],[-45,-23.5],[-48,-26],[-49,-29],[-53,-34],[-57,-36],[-58,-38],[-62,-39],[-65,-42],[-66,-46],[-69,-51],[-68,-54],[-72,-53],[-75,-48],[-73,-42],[-73,-36],[-71,-30],[-70,-20],[-76,-14],[-81,-6],[-80,-2],[-78,3],[-77,7],[-80,8],[-85,10],[-88,13],[-94,16],[-100,17],[-105,20],[-109,26],[-113,31],[-110,24],[-115,30],[-117,33],[-121,35],[-124,40],[-124,47],[-128,51],[-133,56],[-140,60],[-148,61],[-153,58],[-160,55],[-158,58],[-165,61],[-163,64],[-168,66]],
[[-9,37],[-9,43],[-2,43],[-1,46],[-5,48],[0,50],[4,52],[8,54],[8,57],[11,56],[10,54],[14,54],[19,54],[21,57],[24,59],[30,60],[23,60],[21,63],[25,65],[22,66],[17,62],[18,59],[14,56],[12,57],[10,59],[5,59],[5,62],[10,64],[14,68],[20,70],[28,71],[34,69],[40,67],[35,66],[40,65],[44,68],[54,69],[60,69],[68,69],[68,73],[75,72],[80,73],[85,74],[92,76],[100,77],[107,76],[113,74],[122,73],[130,71],[140,73],[150,71],[160,70],[170,70],[180,69],[180,65],[177,62],[170,60],[163,56],[160,52],[156,52],[156,58],[163,62],[155,59],[143,59],[135,55],[141,52],[135,44],[130,42],[128,39],[129,36],[126,34],[126,38],[122,40],[118,39],[122,37],[120,34],[122,30],[119,25],[114,22],[108,21],[106,19],[109,13],[105,9],[101,13],[100,8],[104,1],[101,3],[98,9],[97,16],[94,17],[92,22],[87,21],[80,15],[80,10],[77,8],[73,18],[72,21],[67,24],[57,25],[57,27],[50,30],[48,30],[51,25],[56,26],[59,22],[52,16],[43,13],[39,21],[35,28],[35,32],[36,36],[30,36],[27,37],[26,40],[29,41],[35,42],[41,41],[37,45],[33,46],[29,45],[28,41],[23,40],[23,37],[19,42],[13,45],[16,41],[18,40],[16,38],[12,42],[9,44],[3,43],[0,39],[-2,37],[-5,36],[-9,37]],
[[-6,35.8],[-2,35],[3,36.8],[10,37.2],[10,34],[11,33],[15,32],[19,30.5],[20,32.5],[25,32],[29,31],[32,31],[33,28.5],[35,25],[37,21],[38,18],[40,15],[43,12],[45,10.5],[51,12],[50,8],[48,4.5],[44,1],[41,-2],[39,-5],[39,-9],[40.5,-14],[37,-18],[35,-20],[35.5,-24],[33,-26],[32,-29],[28,-33],[26,-34],[20,-35],[18,-33],[16,-29],[15,-26],[14,-22],[12,-18],[13.5,-12],[13,-8],[11,-4],[9,-1],[9.5,3],[8.5,4.5],[5,6],[2,6.3],[-2,5],[-4,5.2],[-8,4.5],[-11,6.5],[-13,8.5],[-15,11],[-17,14.5],[-16.5,18],[-16,21],[-14.5,25],[-13,27.5],[-10,30],[-9.5,32.5],[-6,35.8]],
[[114,-22],[117,-20],[122,-18],[125,-15],[126,-14],[130,-12],[133,-11.5],[136,-12],[136,-15],[140,-17],[142,-11],[144,-15],[146,-19],[150,-23],[153,-28],[152,-33],[150,-37],[146,-39],[143,-38.5],[140,-38],[136,-35],[131,-31],[124,-33],[120,-34],[116,-35],[115,-32],[114,-30],[114,-26],[114,-22]],
[[-73,78],[-62,82],[-50,82.5],[-40,83],[-30,83],[-22,82],[-18,78],[-20,75],[-25,70],[-32,68],[-40,65],[-44,60],[-50,62],[-54,68],[-55,72],[-58,75],[-66,76],[-73,78]],
[[-181,-85],[-165,-85],[-150,-85.5],[-148,-84],[-160,-81],[-162,-79],[-150,-77.5],[-135,-75],[-125,-74],[-110,-74.5],[-102,-73],[-90,-72.5],[-80,-73],[-75,-71],[-68,-68],[-62,-65],[-58,-63.3],[-60,-65],[-63,-68],[-64,-72],[-62,-75],[-67,-75],[-66,-78],[-60,-80],[-45,-79],[-35,-78],[-28,-76],[-20,-73],[-12,-71.5],[0,-70.5],[10,-70],[25,-70],[35,-69],[45,-67],[55,-66.5],[65,-67.5],[70,-69],[75,-70],[85,-66.5],[100,-66],[115,-66],[130,-66],[145,-67],[160,-69],[170,-71.5],[167,-76],[163,-78],[158,-81],[165,-83],[177,-85]],
[[-5,50],[1,51],[0,54],[-3,58],[-6,57],[-3,54],[-5,52],[-5,50]],
[[-10,52],[-6,52],[-6,55],[-9,54],[-10,52]],
[[-24,65],[-14,65],[-15,64],[-22,63.5],[-24,65]],
[[130,32],[136,34],[141,36],[141,41],[145,44],[141,45],[140,40],[136,36],[131,34],[130,32]],
[[44,-16],[49,-12],[50,-16],[47,-25],[44,-24],[44,-16]],
[[95,5],[104,-2],[106,-6],[101,-3],[95,5]],
[[109,1],[117,7],[119,1],[116,-4],[110,-3],[109,1]],
[[131,-1],[141,-3],[147,-6],[150,-10],[143,-9],[138,-8],[133,-4],[131,-1]],
[[105,-7],[114,-8],[106,-7.5],[105,-7]],
[[120,18],[122,18],[126,7],[122,7],[120,14],[120,18]],
[[120,1],[124,1],[122,-5],[120,-4],[120,1]],
[[172,-35],[178,-38],[170,-46],[167,-46],[172,-40],[172,-35]],
[[-85,22],[-80,23],[-74,20],[-78,20],[-85,22]],
[[-74,20],[-69,19],[-71,18],[-74,18],[-74,20]],
[[-80,73],[-70,71],[-62,66],[-66,62],[-75,65],[-80,70],[-80,73]],
[[-117,72],[-105,73],[-102,69],[-115,69],[-117,72]],
[[-90,77],[-85,82],[-65,83],[-75,78],[-90,77]],
[[-125,72],[-118,75],[-116,73],[-122,71],[-125,72]],
[[-112,76],[-100,76],[-105,75],[-112,76]],
[[-96,74],[-85,74],[-82,73],[-95,72],[-96,74]],
[[-122,76],[-116,77],[-112,78],[-118,75.5],[-122,76]],
[[-100,79],[-92,81],[-88,79],[-96,78],[-100,79]],
[[-86,65],[-80,65],[-82,62.5],[-86,65]],
[[12,79],[25,80],[20,77],[12,79]],
[[52,71],[68,77],[60,75],[52,71]],
[[80,9],[82,7],[80,6],[80,9]],
[[50,47],[53,45],[53,40],[54,37],[50,37],[47,43],[50,47]],
[[58,46],[61,46],[60,44],[58,46]],
[[-92,47],[-85,47],[-84,43],[-87,42],[-92,47]],
[[142,54],[143,47],[142,47],[142,54]],
[[145,-41],[148,-41],[147,-43],[145,-41]],
[[-60,-51],[-58,-52],[-60,-52],[-60,-51]],
[[33,-2],[34,0],[32,0],[33,-2]],
[[29,-4],[30,-8],[29,-8],[29,-4]],
[[34,-10],[35,-14],[34,-14],[34,-10]],
[[55,72],[60,74],[57,72],[55,72]],
[[95,80],[104,79],[98,78],[95,80]],
[[140,75],[148,75.5],[142,74],[140,75]]
];

const titles = ["a. Zonal mean ozone (ppb", "b.Tropospheric ozone column (DU)", "c. Surface ozone  (ppb"];
const rowLabels = ["2000", "2050 \u2013 B1 scenario", "2050-A1B scenario"];
const presTicks = [200,400,600,800,1000];
const latTicks = [-80,-60,-40,-20,0,20,40,60,80];
const lonTicks = [-150,-100,-50,0,50,100,150];
const latLabels = [[-80,"80\u00b0S"],[-40,"40\u00b0S"],[0,"0\u00b0"],[40,"40\u00b0N"],[80,"80\u00b0N"]];
const lonLabels = [[-100,"100\u00b0W"],[0,"0\u00b0"],[100,"100\u00b0E"]];

let svg = d3.select("#chart");
let defs = svg.append("defs");
defs.append("filter").attr("id", "soft").attr("x", "-5%").attr("y", "-5%").attr("width", "110%").attr("height", "110%")
  .append("feGaussianBlur").attr("stdDeviation", 0.6);

let ring = d3.line().curve(d3.curveCatmullRomClosed);

function drawField(g, id, grid, xs, ys, sx, sy, levels, colors) {
  let nx = xs.length, ny = ys.length;
  grid.forEach((row, i) => {
    if (row.length !== nx) throw new Error(id + " row " + i + " has " + row.length);
  });
  if (grid.length !== ny) throw new Error(id + " has " + grid.length + " rows");
  // one extra row/col each side so the contours close outside the clip
  let w = nx + 2, h = ny + 2;
  let vals = [];
  for (let j = 0; j < h; j++) {
    let r = grid[Math.max(0, Math.min(ny - 1, j - 1))];
    for (let i = 0; i < w; i++) vals.push(r[Math.max(0, Math.min(nx - 1, i - 1))]);
  }
  let colIdx = d3.scaleLinear().domain(d3.range(nx)).range(xs);
  let rowIdx = d3.scaleLinear().domain(d3.range(ny)).range(ys);
  let px = (u) => sx(colIdx(u - 1.5));
  let py = (v) => sy(rowIdx(v - 1.5));

  let contours = d3.contours().size([w, h]).thresholds(levels.slice(1, -1))(vals);
  g.append("rect")
    .attr("x", sx.range()[0] - 6).attr("y", sy.range()[0] - 6)
    .attr("width", sx.range()[1] - sx.range()[0] + 12).attr("height", sy.range()[1] - sy.range()[0] + 12)
    .attr("fill", colors[0]);
  g.selectAll("path.band")
    .data(contours)
    .enter()
    .append("path")
    .attr("class", "band")
    .attr("fill-rule", "evenodd")
    .attr("fill", (d, i) => colors[i + 1])
    .attr("d", (d) =>
      d.coordinates
        .flatMap((poly) => poly)
        .map((r) => ring(r.slice(0, -1).map((p) => [px(p[0]), py(p[1])])))
        .join("")
    );
}

function plotGroup(id, box) {
  defs.append("clipPath").attr("id", "clip-" + id)
    .append("rect").attr("x", box.x0).attr("y", box.y0)
    .attr("width", box.x1 - box.x0).attr("height", box.y1 - box.y0);
  return svg.append("g").attr("clip-path", "url(#clip-" + id + ")")
    .append("g").attr("filter", "url(#soft)");
}

function frame(sx, sy, xTicks, yTicks, smallFmt, smallTitle, titleY, box) {
  let style = (s) => {
    s.selectAll("path").attr("stroke", "#999").attr("stroke-width", 1);
    s.selectAll("line").attr("stroke", "#888").attr("stroke-width", 0.8);
    s.selectAll("text").attr("font-size", 7).attr("fill", "#777");
  };
  svg.append("g").attr("transform", `translate(0,${box.y1})`)
    .call(d3.axisBottom(sx).tickValues(xTicks).tickSize(4).tickSizeOuter(0).tickPadding(3).tickFormat(smallFmt || ""))
    .call(style);
  svg.append("g").attr("transform", `translate(0,${box.y0})`)
    .call(d3.axisTop(sx).tickValues(xTicks).tickSize(4).tickSizeOuter(0).tickFormat(""))
    .call(style);
  svg.append("g").attr("transform", `translate(${box.x0},0)`)
    .call(d3.axisLeft(sy).tickValues(yTicks).tickSize(box.leftTick).tickSizeOuter(0).tickFormat(""))
    .call(style);
  svg.append("g").attr("transform", `translate(${box.x1},0)`)
    .call(d3.axisRight(sy).tickValues(yTicks).tickSize(3).tickSizeOuter(0).tickFormat(""))
    .call(style);
  if (smallTitle) {
    svg.append("text").attr("x", (box.x0 + box.x1) / 2).attr("y", titleY)
      .attr("text-anchor", "middle").attr("font-size", 7.5).attr("fill", "#777").text(smallTitle);
  }
}

// zonal panels
const zonalPanels = [
  { id: "a1", grid: zonal2000, gaps: gaps2000, patch: null, x0: 110.7, x1: 421.7, y0: 70.7, y1: 304, labels: [99, 301], smallY: 326 },
  { id: "a2", grid: zonalB1, gaps: gapsB1, patch: [[79,100],[83,123],[87,123],[88,100]], x0: 111.5, x1: 422, y0: 350, y1: 581.7, labels: [376, 578], smallY: 604 },
  { id: "a3", grid: zonalA1B, gaps: gapsA1B, patch: null, x0: 112.7, x1: 422.7, y0: 637.3, y1: 870, labels: [668, 869], smallY: null },
];
zonalPanels.forEach((p) => {
  let box = { x0: p.x0, x1: p.x1, y0: p.y0, y1: p.y1, leftTick: 3 };
  let x = d3.scaleLinear().domain([-90, 90]).range([p.x0, p.x1]);
  let y = d3.scaleLinear().domain([100, 1000]).range([p.y0, p.y1]);
  let g = plotGroup(p.id, box);
  drawField(g, p.id, p.grid, zonalLat, zonalPres, x, y, zonalLevels, zonalColors);
  let poly = d3.line().x((d) => x(d[0])).y((d) => y(d[1]));
  g.selectAll("path.gap").data(p.gaps).enter().append("path").attr("class", "gap")
    .attr("d", (d) => poly(d) + "Z").attr("fill", "#fff");
  if (p.patch) g.append("path").attr("d", poly(p.patch) + "Z").attr("fill", zonalColors[0]);
  g.append("path").attr("d", poly.curve(d3.curveMonotoneX)(tropopause))
    .attr("fill", "none").attr("stroke", "#b8503c").attr("stroke-width", 1.1).attr("opacity", 0.75);

  let fmt = p.smallY ? (d) => (latLabels.find((l) => l[0] === d) || [0, ""])[1] : null;
  frame(x, y, latTicks, [200,300,400,500,600,700,800,900,1000], fmt, p.smallY ? "LATITUDE" : null, p.smallY, box);

  let ly = d3.scaleLinear().domain([200, 1000]).range(p.labels);
  svg.append("g").selectAll("text").data(presTicks).enter().append("text")
    .attr("x", 93).attr("y", (d) => ly(d)).attr("dy", "0.35em")
    .attr("text-anchor", "end").attr("font-size", 16).attr("fill", "#111").text((d) => d);
});
svg.append("text").attr("x", 61).attr("y", 68).attr("font-size", 16).attr("fill", "#111").text("hPa");

// map panels
const mapPanels = [
  { id: "b1", grid: column2000, levels: columnLevels, colors: columnColors, x0: 534.7, x1: 844.3, y0: 67.7, y1: 300, leftTick: 0, stub: true, smallY: 322 },
  { id: "b2", grid: columnB1, levels: columnLevels, colors: columnColors, x0: 534.7, x1: 844.3, y0: 352.7, y1: 585, leftTick: 0, stub: true, smallY: 607 },
  { id: "b3", grid: columnA1B, levels: columnLevels, colors: columnColors, x0: 534.7, x1: 844.3, y0: 640.7, y1: 871.7, leftTick: 0, stub: true, smallY: null },
  { id: "c1", grid: surface2000, levels: surfaceLevels, colors: surfaceColors, x0: 953.3, x1: 1263.7, y0: 72.3, y1: 305.7, leftTick: 3, smallY: 327 },
  { id: "c2", grid: surfaceB1, levels: surfaceLevels, colors: surfaceColors, x0: 953.3, x1: 1263.7, y0: 352.3, y1: 585, leftTick: 3, smallY: 606 },
  { id: "c3", grid: surfaceA1B, levels: surfaceLevels, colors: surfaceColors, x0: 953.3, x1: 1263.7, y0: 637.3, y1: 870, leftTick: 3, smallY: null },
];
mapPanels.forEach((p) => {
  let box = { x0: p.x0, x1: p.x1, y0: p.y0, y1: p.y1, leftTick: p.leftTick };
  let x = d3.scaleLinear().domain([-181.5, 176.4]).range([p.x0, p.x1]);
  let y = d3.scaleLinear().domain([90, -90]).range([p.y0, p.y1]);
  let g = plotGroup(p.id, box);
  drawField(g, p.id, p.grid, mapLon, mapLat, x, y, p.levels, p.colors);
  let coastLine = d3.line().x((d) => x(d[0])).y((d) => y(d[1]));
  svg.select(`g[clip-path="url(#clip-${p.id})"]`).append("g")
    .selectAll("path").data(coasts).enter().append("path")
    .attr("d", coastLine).attr("fill", "none").attr("stroke", "#141414")
    .attr("stroke-width", 0.9).attr("stroke-linejoin", "round").attr("opacity", 0.85);

  let fmt = p.smallY ? (d) => (lonLabels.find((l) => l[0] === d) || [0, ""])[1] : null;
  frame(x, y, lonTicks, latTicks, fmt, p.smallY ? "LONGITUDE" : null, p.smallY, box);
  if (p.stub) {
    svg.append("g").selectAll("line").data(latTicks).enter().append("line")
      .attr("x1", p.x0 - 8).attr("x2", p.x0 - 7).attr("y1", (d) => y(d)).attr("y2", (d) => y(d))
      .attr("stroke", "#888").attr("stroke-width", 2);
  }
});

// big axis labels on the bottom row
let latLabelX = d3.scaleLinear().domain([-80, 80]).range([122, 413]);
svg.append("g").selectAll("text").data(latLabels).enter().append("text")
  .attr("x", (d) => latLabelX(d[0])).attr("y", 897).attr("text-anchor", "middle")
  .attr("font-size", 16).attr("fill", "#111").text((d) => d[1]);
svg.append("text").attr("x", 266).attr("y", 915).attr("text-anchor", "middle").attr("font-size", 15).attr("fill", "#111").text("Latitude");
[[614, 784, 702], [1034, 1202, 1123]].forEach((c) => {
  let lx = d3.scaleLinear().domain([-100, 100]).range([c[0], c[1]]);
  svg.append("g").selectAll("text").data(lonLabels).enter().append("text")
    .attr("x", (d) => lx(d[0])).attr("y", 897).attr("text-anchor", "middle")
    .attr("font-size", 16).attr("fill", "#111").text((d) => d[1]);
  svg.append("text").attr("x", c[2]).attr("y", 915).attr("text-anchor", "middle").attr("font-size", 15).attr("fill", "#111").text("Longitude");
});

// colour bars
function colorBar(levels, labels, colors, x0, x1, y0, y1, labelX, anchor) {
  let n = colors.length;
  let y = d3.scaleLinear().domain([0, n]).range([y1, y0]);
  let g = svg.append("g");
  g.selectAll("rect").data(colors).enter().append("rect")
    .attr("x", x0).attr("width", x1 - x0)
    .attr("y", (d, i) => y(i + 1)).attr("height", (d, i) => y(i) - y(i + 1))
    .attr("fill", (d) => d).attr("stroke", "#1a1a1a").attr("stroke-width", 1.3);
  g.selectAll("text").data(labels).enter().append("text")
    .attr("x", labelX).attr("y", (d, i) => y(i)).attr("dy", "0.35em")
    .attr("text-anchor", anchor).attr("font-size", 19).attr("fill", "#333").text((d) => d);
}
colorBar(zonalLevels, zonalLabels, zonalColors, 435, 464.3, 69, 870, 472, "start");
colorBar(columnLevels, columnLabels, columnColors, 862.7, 894, 72.3, 871.7, 902, "start");
colorBar(surfaceLevels, surfaceLabels, surfaceColors, 1278.7, 1307.3, 69.7, 872.3, 1334, "middle");

// titles
[[124, 35, 0, true, 24], [522, 31, 1, false, 26.2], [954, 35, 2, true, 26.3]].forEach((t) => {
  let txt = svg.append("text").attr("x", t[0]).attr("y", t[1]).attr("font-size", t[4]).attr("fill", "#111")
    .attr("xml:space", "preserve").style("white-space", "pre").text(titles[t[2]]);
  if (t[3]) {
    txt.append("tspan").attr("font-size", t[4] * 0.62).attr("dy", 5).text("v");
    txt.append("tspan").attr("dy", -5).text(")");
  }
});

// row labels
[[33, 193, 0], [33, 469, 1], [33, 757, 2]].forEach((t) => {
  svg.append("text").attr("transform", `translate(${t[0]},${t[1]}) rotate(-90)`)
    .attr("text-anchor", "middle").attr("font-size", 26.5).attr("fill", "#111").text(rowLabels[t[2]]);
});
</script>
</body>
</html>
